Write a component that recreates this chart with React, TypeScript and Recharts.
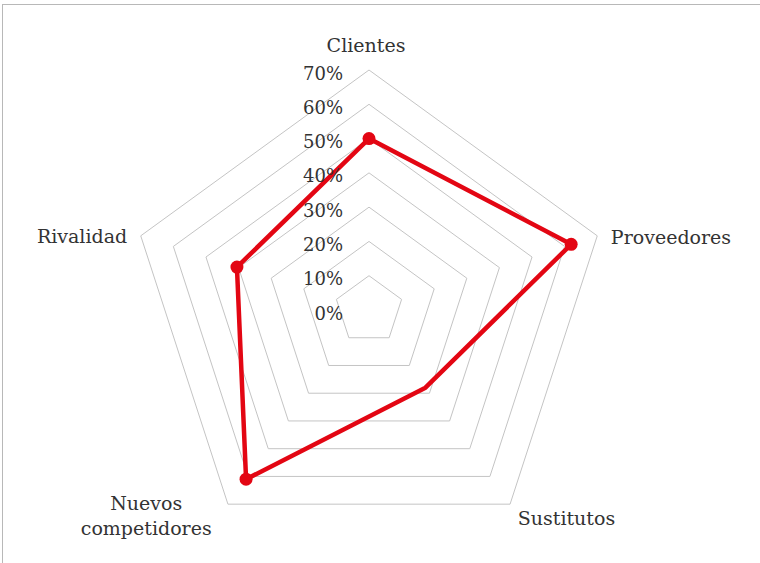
import React from 'react'
import { RadarChart, Radar, PolarGrid, PolarAngleAxis, PolarRadiusAxis } from 'recharts'

const categories = ['Clientes', 'Proveedores', 'Sustitutos', 'Nuevos competidores', 'Rivalidad']
const values = [50, 62, 28, 61, 40.5]
const radiusTicks = [0, 10, 20, 30, 40, 50, 60, 70]

const data = categories.map((name, i) => ({ name, value: values[i] }))

const RED = '#e30613'
const FONT = '"DejaVu Serif", serif'
const TEXT = '#333333'

// the original shows no marker on this point
const hiddenMarkers = ['Sustitutos']

// label placement relative to the angle-axis tick point
const labelOffsets: Record<string, { dx: number; dy: number; anchor: 'start' | 'middle' | 'end' }> = {
  Clientes: { dx: -3, dy: -10, anchor: 'middle' },
  Proveedores: { dx: 6, dy: 11, anchor: 'start' },
  Sustitutos: { dx: 3, dy: 14, anchor: 'start' },
  'Nuevos competidores': { dx: -77, dy: -1, anchor: 'middle' },
  Rivalidad: { dx: -6, dy: 10, anchor: 'end' },
}

const AngleTick = (props: any) => {
  const { x, y, payload } = props
  const label = String(payload.value)
  const o = labelOffsets[label] || { dx: 0, dy: 0, anchor: 'middle' }
  const lines = label === 'Nuevos competidores' ? ['Nuevos', 'competidores'] : [label]
  return (
    <text x={x + o.dx} y={y + o.dy} textAnchor={o.anchor} fill={TEXT} fontSize={19} fontFamily={FONT}>
      {lines.map((l, i) => (
        <tspan key={l} x={x + o.dx} dy={i === 0 ? 0 : 25}>
          {l}
        </tspan>
      ))}
    </text>
  )
}

const RadiusTick = (props: any) => {
  const { x, y, payload } = props
  return (
    <text x={x - 26} y={y + 9.5} textAnchor="end" fill={TEXT} fontSize={18} fontFamily={FONT}>
      {`${payload.value}%`}
    </text>
  )
}

const RedDot = (props: any) => {
  const { cx, cy, index } = props
  if (hiddenMarkers.includes(categories[index])) return <g key={`dot-${index}`} />
  return <circle key={`dot-${index}`} cx={cx} cy={cy} r={6.5} fill={RED} />
}

export default function App() {
  return (
    <div style={{ position: 'fixed', left: 0, top: 0, width: 760, height: 563, background: '#fff', overflow: 'hidden' }}>
      <div
        style={{
          position: 'absolute',
          left: 2,
          top: 4,
          width: 800,
          height: 600,
          borderLeft: '1.5px solid #b8b8b8',
          borderTop: '1.5px solid #b8b8b8',
        }}
      />
      <div style={{ position: 'absolute', left: 0, top: 0 }}>
        <RadarChart width={760} height={563} data={data} cx={369} cy={310} outerRadius={240}>
          <PolarGrid gridType="polygon" radialLines={false} stroke="#c4c4c4" strokeWidth={1} />
          <PolarAngleAxis dataKey="name" tick={<AngleTick />} tickLine={false} axisLine={false} />
          <PolarRadiusAxis
            angle={90}
            domain={[0, 70]}
            tickCount={radiusTicks.length}
            axisLine={false}
            tick={<RadiusTick />}
          />
          <Radar
            dataKey="value"
            stroke={RED}
            strokeWidth={4.5}
            strokeLinejoin="round"
            fill="none"
            fillOpacity={0}
            dot={RedDot}
            isAnimationActive={false}
          />
        </RadarChart>
      </div>
    </div>
  )
}
